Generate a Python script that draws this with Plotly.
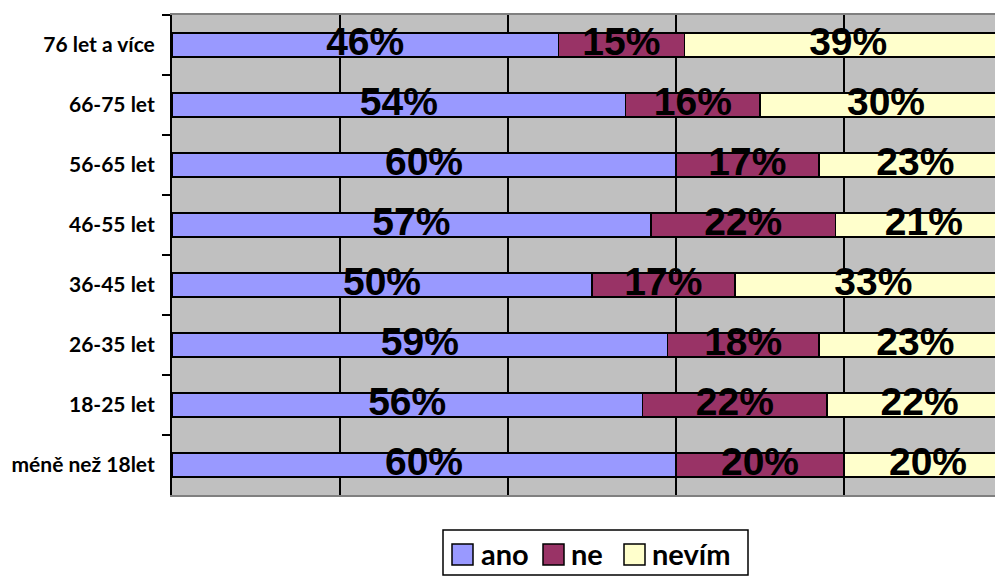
# -*- coding: utf-8 -*-
# stacked 100% bars - odpovedi podle vekovych skupin
import plotly.graph_objects as go

# %% data
vekove_skupiny = ["76 let a více", "66-75 let", "56-65 let", "46-55 let",
                  "36-45 let", "26-35 let", "18-25 let", "méně než 18let"]
ano = [46, 54, 60, 57, 50, 59, 56, 60]
ne = [15, 16, 17, 22, 17, 18, 22, 20]
nevim = [39, 30, 23, 21, 33, 23, 22, 20]
serie = ["ano", "ne", "nevím"]
barvy = ["#9999FF", "#993366", "#FFFFCC"]

# %% layout constants (page body has an 8px margin)
OFF = 8
W, H = 1003 - OFF, 576 - OFF
L, T, B = 172 - OFF, 15 - OFF, 576 - 495


def px_x(px):
    # window pixel -> paper x
    return (px - OFF - L) / (W - L)


def px_y(py):
    # window pixel -> paper y
    return (H - B - (py - OFF)) / (H - T - B)


fig = go.Figure()

zacatek = [0] * len(vekove_skupiny)
for nazev, hodnoty, barva in zip(serie, [ano, ne, nevim], barvy):
    fig.add_bar(
        y=vekove_skupiny,
        x=hodnoty,
        orientation="h",
        name=nazev,
        marker=dict(color=barva, line=dict(color="black", width=1.5)),
        showlegend=False,
    )
    # labels centred in each segment (segment may run past the visible range)
    stred = [z + v / 2 for z, v in zip(zacatek, hodnoty)]
    fig.add_scatter(
        y=vekove_skupiny,
        x=stred,
        mode="text",
        text=[f"{v}%" for v in hodnoty],
        textposition="middle center",
        textfont=dict(family="Liberation Sans", size=39, color="black", weight="bold"),
        showlegend=False,
        cliponaxis=False,
        hoverinfo="skip",
    )
    zacatek = [z + v for z, v in zip(zacatek, hodnoty)]

# %% manual legend (Excel style box)
shapes = [
    dict(type="rect", xref="paper", yref="paper",
         x0=px_x(443), x1=px_x(748), y0=px_y(530), y1=px_y(575),
         line=dict(color="black", width=1.5), fillcolor="white", layer="above")
]
annotations = []
sym_x = [452, 543, 624]
txt_x = [480, 570, 651]
for nazev, barva, sx, tx in zip(serie, barvy, sym_x, txt_x):
    shapes.append(dict(type="rect", xref="paper", yref="paper",
                       x0=px_x(sx), x1=px_x(sx + 21), y0=px_y(544), y1=px_y(565),
                       line=dict(color="black", width=1.5), fillcolor=barva, layer="above"))
    annotations.append(dict(text=nazev, xref="paper", yref="paper",
                            x=px_x(tx), y=px_y(553), xanchor="left", yanchor="middle",
                            showarrow=False, borderpad=0,
                            font=dict(family="Lato", size=29, color="black", weight="bold")))

fig.update_layout(
    width=W, height=H,
    margin=dict(l=L, r=0, t=T, b=B),
    barmode="stack",
    bargap=0.6,
    plot_bgcolor="#C0C0C0",
    paper_bgcolor="white",
    shapes=shapes,
    annotations=annotations,
    xaxis=dict(
        range=[0, 98.93],
        dtick=20, tick0=0,
        showticklabels=False,
        showgrid=True, gridcolor="black", gridwidth=1.5,
        zeroline=False,
        showline=True, mirror=True, linecolor="#808080", linewidth=2,
        automargin=False,
    ),
    yaxis=dict(
        type="category",
        autorange="reversed",
        tickson="boundaries",
        ticks="outside", ticklen=8, tickwidth=2, tickcolor="black",
        showline=True, linecolor="black", linewidth=2,
        showgrid=False,
        ticklabelstandoff=11,
        automargin=False,
        tickfont=dict(family="Lato", size=21, color="black", weight="bold"),
    ),
)

fig.write_html("out.html")
